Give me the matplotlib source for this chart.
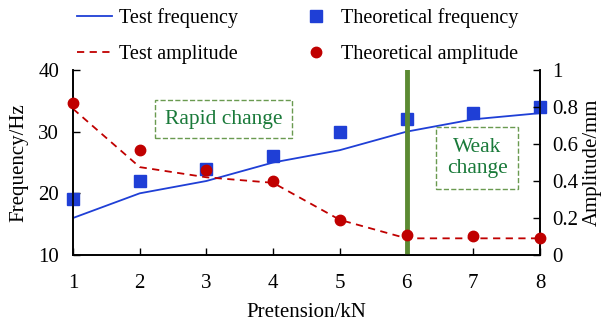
import matplotlib
matplotlib.use("Agg")
import matplotlib.pyplot as plt
from matplotlib.lines import Line2D

plt.rcParams['font.family'] = ['Liberation Serif', 'DejaVu Serif']
plt.rcParams['font.size'] = 15

pretension = [1, 2, 3, 4, 5, 6, 7, 8]
test_freq = [16, 20, 22, 25, 27, 30, 32, 33]
theo_freq = [19, 22, 24, 26, 30, 32, 33, 34]
test_amp = [0.79, 0.475, 0.42, 0.39, 0.19, 0.09, 0.09, 0.09]
theo_amp = [0.82, 0.57, 0.46, 0.40, 0.19, 0.11, 0.10, 0.09]

blue = '#1f3fd6'
red = '#c00000'
green = '#5b8a32'
text_green = '#1a7a3a'

fig = plt.figure(figsize=(6.06, 3.24), dpi=100)
ax = fig.add_axes([0.1205, 0.213, 0.7705, 0.571])
ax2 = ax.twinx()

ax.plot(pretension, test_freq, color=blue, lw=1.3)
ax.plot(pretension, theo_freq, 's', color=blue, ms=8.5, clip_on=False, zorder=5)
ax2.plot(pretension, test_amp, '--', color=red, lw=1.3, dashes=(4, 3))
ax2.plot(pretension, theo_amp, 'o', color=red, ms=7.5, clip_on=False, zorder=5)
ax2.plot([6, 6], [0, 1], color=green, lw=3.5)

ax.set_xlim(1, 8)
ax.set_ylim(10, 40)
ax2.set_ylim(0, 1)
ax.set_xticks(pretension)
ax.set_yticks([10, 20, 30, 40])
ax2.set_yticks([0, 0.2, 0.4, 0.6, 0.8, 1])
ax2.set_yticklabels(['0', '0.2', '0.4', '0.6', '0.8', '1'])

for a in (ax, ax2):
    a.spines['top'].set_visible(False)
    for s in a.spines.values():
        s.set_linewidth(1.2)
ax.tick_params(axis='y', direction='in', length=5, width=1, pad=10)
ax2.tick_params(axis='y', direction='in', length=5, width=1, pad=9)
ax.tick_params(axis='x', direction='in', length=5, width=1, pad=14)
ax.set_xlabel('Pretension/kN', labelpad=7)
ax.set_ylabel('Frequency/Hz', labelpad=7)
ax2.set_ylabel('Amplitude/mm', labelpad=3)

ax2.text(3.26, 0.735, 'Rapid change', color=text_green, ha='center', va='center',
         fontsize=15.5,
         bbox=dict(boxstyle='square,pad=0.45', fc='white', ec='#6a9a50', ls='--', lw=1))
ax2.text(7.06, 0.525, 'Weak\nchange', color=text_green, ha='center', va='center',
         fontsize=15.5, linespacing=1.15,
         bbox=dict(boxstyle='square,pad=0.5', fc='white', ec='#6a9a50', ls='--', lw=1))

handles = [
    Line2D([], [], color=blue, lw=1.3),
    Line2D([], [], ls='--', color=red, lw=1.3, dashes=(4, 3)),
    Line2D([], [], marker='s', ls='none', color=blue, ms=8.5),
    Line2D([], [], marker='o', ls='none', color=red, ms=7.5),
]
labels = ['Test frequency', 'Test amplitude', 'Theoretical frequency', 'Theoretical amplitude']
fig.legend(handles, labels, ncol=2, loc='upper left', bbox_to_anchor=(0.127, 0.975),
           frameon=False, borderpad=0, borderaxespad=0, columnspacing=3.0,
           handlelength=1.75, handletextpad=0.35, labelspacing=0.85, fontsize=14.5)

fig.savefig('out.png', dpi=100)
